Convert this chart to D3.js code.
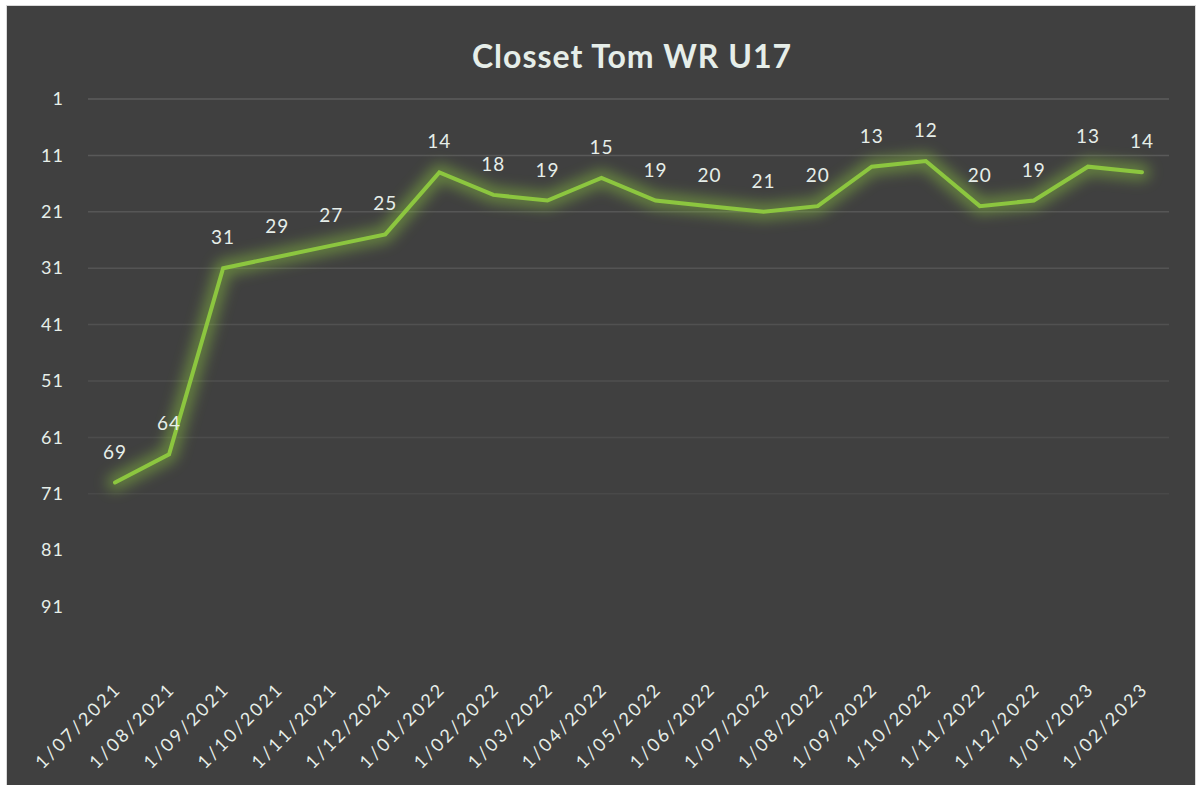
<!DOCTYPE html>
<html>
<head>
<meta charset="utf-8">
<script src="https://cdn.jsdelivr.net/npm/d3@7"></script>
<style>
  html, body { margin: 0; padding: 0; background: #ffffff; }
  #plot { width: 1202px; height: 785px; }
</style>
</head>
<body>
<div id="plot"></div>
<script>
// Ranking chart, y axis reversed (1 on top)
const months = ['1/07/2021', '1/08/2021', '1/09/2021', '1/10/2021', '1/11/2021', '1/12/2021',
  '1/01/2022', '1/02/2022', '1/03/2022', '1/04/2022', '1/05/2022', '1/06/2022', '1/07/2022',
  '1/08/2022', '1/09/2022', '1/10/2022', '1/11/2022', '1/12/2022', '1/01/2023', '1/02/2023'];
const ranks = [69, 64, 31, 29, 27, 25, 14, 18, 19, 15, 19, 20, 21, 20, 13, 12, 20, 19, 13, 14];
const yTicks = [1, 11, 21, 31, 41, 51, 61, 71, 81, 91];
const yDomain = [1, 101];
const chartTitle = 'Closset Tom WR U17';

const W = 1202, H = 785;
const margin = { top: 99, right: 33, bottom: 122, left: 88 };
const font = 'Lato, "Open Sans", sans-serif';
const textColor = '#e6eee9';
const lineColor = '#8cc63f';

const svg = d3.select('#plot').append('svg').attr('width', W).attr('height', H);

const defs = svg.append('defs');
defs.append('filter').attr('id', 'glow')
  .attr('x', '-20%').attr('y', '-20%').attr('width', '140%').attr('height', '140%')
  .append('feGaussianBlur').attr('stdDeviation', 7);

// chart frame
svg.append('rect').attr('x', 6.5).attr('y', 5.5).attr('width', 1189).attr('height', H)
  .attr('fill', '#404040').attr('stroke', '#d9d9d9').attr('stroke-width', 1);

const x = d3.scalePoint().domain(months).range([margin.left, W - margin.right]).padding(0.5);
const y = d3.scaleLinear().domain(yDomain).range([margin.top, H - margin.bottom]);

// gridlines, fading towards the bottom
const gridOpacity = d3.scaleLinear().domain([1, 71, 81]).range([1, 0.35, 0]).clamp(true);
svg.append('g').selectAll('line').data(yTicks).join('line')
  .attr('x1', margin.left).attr('x2', W - margin.right)
  .attr('y1', (d) => y(d)).attr('y2', (d) => y(d))
  .attr('stroke', '#5c5c5c').attr('stroke-width', 1.5)
  .attr('opacity', (d) => gridOpacity(d));

// y axis labels
const yAxis = d3.axisLeft(y).tickValues(yTicks).tickSize(0).tickPadding(24);
const gy = svg.append('g').attr('transform', `translate(${margin.left},0)`).call(yAxis);
gy.select('.domain').remove();
gy.selectAll('text').attr('fill', textColor).style('font-family', font).style('font-size', '18px')
  .style('letter-spacing', '1px');

// x axis labels
const xAxis = d3.axisBottom(x).tickSize(0);
const gx = svg.append('g').attr('transform', `translate(0,${H - margin.bottom})`).call(xAxis);
gx.select('.domain').remove();
gx.selectAll('text')
  .attr('fill', textColor)
  .style('font-family', font).style('font-size', '18px')
  .style('letter-spacing', '2.6px')
  .attr('text-anchor', 'end')
  .attr('dx', 0).attr('dy', 0)
  .attr('y', 0)
  .attr('transform', 'translate(7,27) rotate(-45)');

// line + glow
const line = d3.line().x((d, i) => x(months[i])).y((d) => y(d));
svg.append('path').datum(ranks).attr('d', line)
  .attr('fill', 'none').attr('stroke', lineColor).attr('stroke-width', 16)
  .attr('stroke-linejoin', 'round').attr('stroke-linecap', 'round')
  .attr('opacity', 0.5).attr('filter', 'url(#glow)');
svg.append('path').datum(ranks).attr('d', line)
  .attr('fill', 'none').attr('stroke', lineColor).attr('stroke-width', 4)
  .attr('stroke-linejoin', 'miter').attr('stroke-linecap', 'round');

// data labels
svg.append('g').selectAll('text').data(ranks).join('text')
  .attr('x', (d, i) => x(months[i]))
  .attr('y', (d) => y(d) - 24)
  .attr('text-anchor', 'middle')
  .attr('fill', textColor)
  .style('font-family', font).style('font-size', '19px')
  .style('letter-spacing', '1px')
  .text((d) => d);

// title
svg.append('text').attr('x', 632).attr('y', 68)
  .attr('text-anchor', 'middle').attr('fill', textColor)
  .style('font-family', font).style('font-size', '32px').style('font-weight', 'bold')
  .style('letter-spacing', '1px')
  .text(chartTitle);
</script>
</body>
</html>
